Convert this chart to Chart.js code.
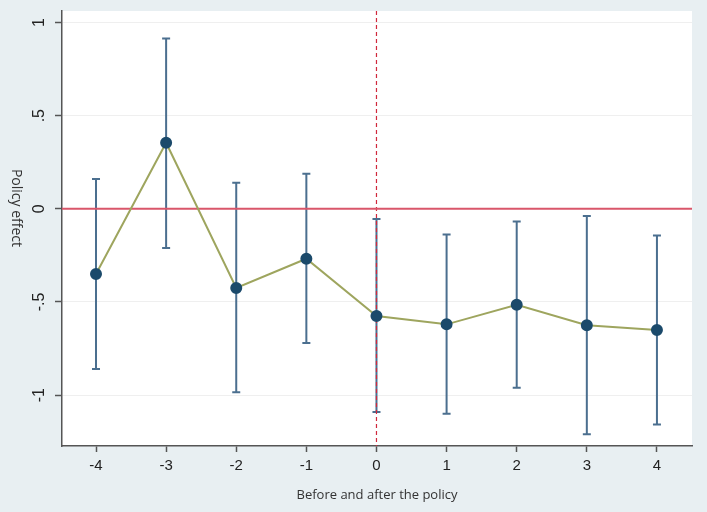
<!DOCTYPE html>
<html>
<head>
<meta charset="utf-8">
<script src="https://cdn.jsdelivr.net/npm/chart.js@4/dist/chart.umd.min.js"></script>
<style>
    html, body { margin: 0; padding: 0; background: #e8eff2; }
    #wrap { width: 707px; height: 512px; }
</style>
</head>
<body>
<div id="wrap"><canvas id="policyChart" width="707" height="512"></canvas></div>
<script>
// event time relative to the policy
var periods = [-4, -3, -2, -1, 0, 1, 2, 3, 4];
// point estimates and 95% confidence bounds
var estimates = [-0.35, 0.355, -0.425, -0.268, -0.575, -0.62, -0.515, -0.625, -0.65];
var upperCI = [0.16, 0.915, 0.14, 0.188, -0.055, -0.138, -0.068, -0.038, -0.143];
var lowerCI = [-0.86, -0.21, -0.985, -0.72, -1.09, -1.10, -0.96, -1.21, -1.158];

var xTicks = [-4, -3, -2, -1, 0, 1, 2, 3, 4];
var yTicks = [-1, -0.5, 0, 0.5, 1];
var yTickLabels = ['-1', '-.5', '0', '.5', '1'];

var points = periods.map(function(p, i) {
    return { x: p, y: estimates[i] };
});

// white plot region
var plotBackground = {
    id: 'plotBackground',
    beforeDraw: function(chart) {
        var a = chart.chartArea, c = chart.ctx;
        c.save();
        c.fillStyle = '#ffffff';
        c.fillRect(a.left, a.top, a.right - a.left, a.bottom - a.top);
        c.restore();
    }
};

// confidence intervals + reference lines, drawn under the estimate line
var errorBars = {
    id: 'errorBars',
    beforeDatasetsDraw: function(chart) {
        var c = chart.ctx, xs = chart.scales.x, ys = chart.scales.y, a = chart.chartArea;
        c.save();
        c.strokeStyle = '#4b6f8f';
        c.lineWidth = 2;
        periods.forEach(function(p, i) {
            var px = xs.getPixelForValue(p);
            var top = ys.getPixelForValue(upperCI[i]);
            var bot = ys.getPixelForValue(lowerCI[i]);
            c.beginPath();
            c.moveTo(px, top); c.lineTo(px, bot);
            c.moveTo(px - 4, top); c.lineTo(px + 4, top);
            c.moveTo(px - 4, bot); c.lineTo(px + 4, bot);
            c.stroke();
        });

        // policy timing
        var x0 = xs.getPixelForValue(0);
        c.strokeStyle = '#d0283c';
        c.lineWidth = 1.2;
        c.setLineDash([4, 3]);
        c.beginPath();
        c.moveTo(x0, a.top); c.lineTo(x0, a.bottom);
        c.stroke();
        c.setLineDash([]);

        // zero effect
        var y0 = ys.getPixelForValue(0);
        c.strokeStyle = '#d9566a';
        c.lineWidth = 2;
        c.beginPath();
        c.moveTo(a.left, y0); c.lineTo(a.right, y0);
        c.stroke();
        c.restore();
    }
};

// y title reads top to bottom in the original
var yTitle = {
    id: 'yTitle',
    afterDraw: function(chart) {
        var c = chart.ctx;
        c.save();
        c.translate(16, 208);
        c.rotate(Math.PI / 2);
        c.font = '14px "Open Sans", sans-serif';
        c.fillStyle = '#333333';
        c.textAlign = 'center';
        c.textBaseline = 'middle';
        c.fillText('Policy effect', 0, 0);
        c.restore();
    }
};

var ctx = document.getElementById('policyChart').getContext('2d');
var policyChart = new Chart(ctx, {
    type: 'line',
    data: {
        datasets: [{
            label: 'Policy effect',
            data: points,
            borderColor: '#9ea55e',
            borderWidth: 2,
            pointBackgroundColor: '#1b4a6b',
            pointBorderColor: '#1b4a6b',
            pointRadius: 5,
            pointHoverRadius: 5,
            tension: 0
        }]
    },
    options: {
        responsive: false,
        animation: false,
        layout: { padding: { left: 0, top: 11, right: 15, bottom: 0 } },
        plugins: {
            legend: { display: false },
            tooltip: { enabled: false }
        },
        scales: {
            x: {
                type: 'linear',
                min: -4.485,
                max: 4.5,
                afterBuildTicks: function(scale) {
                    scale.ticks = xTicks.map(function(v) { return { value: v }; });
                },
                afterFit: function(scale) { scale.height = 66; },
                border: { color: '#555555', width: 1.5 },
                grid: { drawOnChartArea: false, tickLength: 6, tickColor: '#555555', tickWidth: 1.5 },
                ticks: {
                    color: '#222222',
                    padding: 5,
                    font: { family: '"Liberation Sans", Arial, sans-serif', size: 15 },
                    maxRotation: 0,
                    minRotation: 0
                },
                title: {
                    display: true,
                    text: 'Before and after the policy',
                    color: '#333333',
                    font: { family: '"Open Sans", sans-serif', size: 13 },
                    padding: { top: 0, bottom: 9 }
                }
            },
            y: {
                type: 'linear',
                min: -1.273,
                max: 1.062,
                afterBuildTicks: function(scale) {
                    scale.ticks = yTicks.map(function(v) { return { value: v }; });
                },
                afterFit: function(scale) {
                    scale.width = 62;
                    scale.paddingTop = 0;
                    scale.paddingBottom = 0;
                },
                border: { color: '#555555', width: 1.5 },
                grid: { color: '#efefef', lineWidth: 1, tickLength: 7, tickColor: '#555555', tickWidth: 1.5 },
                ticks: {
                    color: '#222222',
                    padding: 6,
                    crossAlign: 'center',
                    minRotation: 90,
                    maxRotation: 90,
                    font: { family: '"Liberation Sans", Arial, sans-serif', size: 16 },
                    callback: function(v) {
                        var i = yTicks.indexOf(v);
                        return i >= 0 ? yTickLabels[i] : '';
                    }
                }
            }
        }
    },
    plugins: [plotBackground, errorBars, yTitle]
});
</script>
</body>
</html>
